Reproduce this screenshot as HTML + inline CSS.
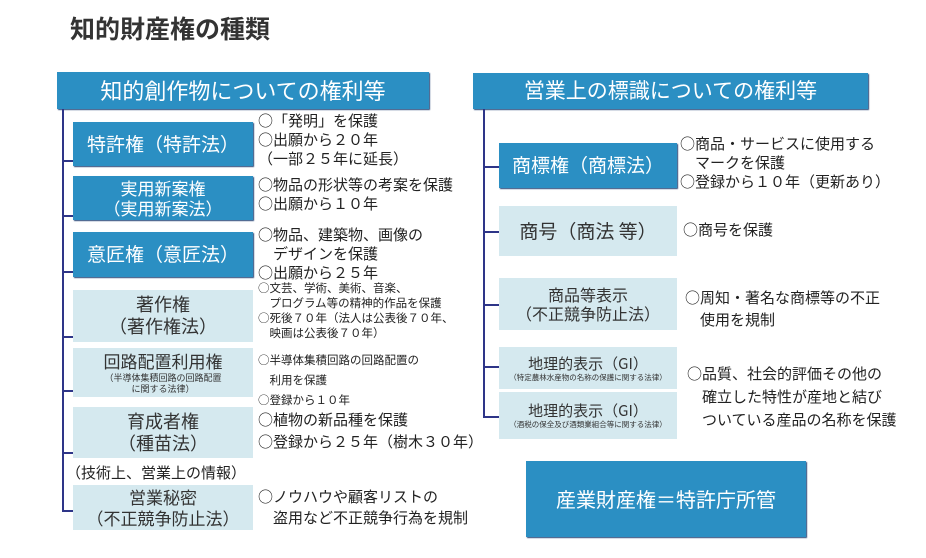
<!DOCTYPE html>
<html><head><meta charset="utf-8"><style>
body{margin:0;width:926px;height:558px;background:#fff;position:relative;overflow:hidden;font-family:"Noto Sans CJK JP","Liberation Sans",sans-serif;color:#222}
.a{position:absolute}
.d{position:absolute;background:#2b8fc3;color:#fff;display:flex;flex-direction:column;align-items:center;justify-content:center;text-align:center;box-shadow:1px 1px 1px #2a4a7a;line-height:1.2}
.l{position:absolute;background:#d5e9ef;color:#333;display:flex;flex-direction:column;align-items:center;justify-content:center;text-align:center;line-height:1.2}
.v{position:absolute;background:#2e3588;width:2px}
.h{position:absolute;background:#2e3588;height:2px}
.t{position:absolute;font-size:15px;line-height:19px;color:#222;white-space:nowrap}
.s{font-size:9px;line-height:11px}
</style></head><body>
<div class="a" style="left:70px;top:12px;font-size:25px;line-height:32px;font-weight:bold;color:#333">知的財産権の種類</div>

<div class="d" style="left:57px;top:72px;width:372px;height:37px;font-size:22px">知的創作物についての権利等</div>
<div class="v" style="left:62px;top:109px;height:403px"></div>
<div class="h" style="left:62px;top:160px;width:11px"></div>
<div class="h" style="left:62px;top:215px;width:11px"></div>
<div class="h" style="left:62px;top:271px;width:11px"></div>
<div class="h" style="left:62px;top:336px;width:11px"></div>
<div class="h" style="left:62px;top:390px;width:11px"></div>
<div class="h" style="left:62px;top:452px;width:11px"></div>
<div class="h" style="left:62px;top:510px;width:11px"></div>

<div class="d" style="left:73px;top:122px;width:180px;height:44px;font-size:19px">特許権（特許法）</div>
<div class="d" style="left:73px;top:176px;width:180px;height:44px;font-size:17px"><div>実用新案権</div><div>（実用新案法）</div></div>
<div class="d" style="left:73px;top:232px;width:180px;height:45px;font-size:19px">意匠権（意匠法）</div>
<div class="l" style="left:73px;top:290px;width:180px;height:52px;font-size:18px"><div>著作権</div><div>（著作権法）</div></div>
<div class="l" style="left:73px;top:348px;width:180px;height:49px;font-size:17px"><div>回路配置利用権</div><div class="s">（半導体集積回路の回路配置<br>に関する法律）</div></div>
<div class="l" style="left:73px;top:407px;width:180px;height:51px;font-size:18px"><div>育成者権</div><div>（種苗法）</div></div>
<div class="t" style="left:66px;top:463px;font-size:15px">（技術上、営業上の情報）</div>
<div class="l" style="left:73px;top:485px;width:180px;height:45px;font-size:17px"><div>営業秘密</div><div>（不正競争防止法）</div></div>

<div class="t" style="left:258px;top:111px">○「発明」を保護<br>○出願から２０年<br>（一部２５年に延長）</div>
<div class="t" style="left:258px;top:175px">○物品の形状等の考案を保護<br>○出願から１０年</div>
<div class="t" style="left:258px;top:225px">○物品、建築物、画像の<br>　デザインを保護<br>○出願から２５年</div>
<div class="t" style="left:258px;top:281px;font-size:11.5px;line-height:15px">○文芸、学術、美術、音楽、<br>　プログラム等の精神的作品を保護<br>○死後７０年（法人は公表後７０年、<br>　映画は公表後７０年）</div>
<div class="t" style="left:258px;top:350px;font-size:11.5px;line-height:20px">○半導体集積回路の回路配置の<br>　利用を保護<br>○登録から１０年</div>
<div class="t" style="left:258px;top:409px;line-height:22px">○植物の新品種を保護<br>○登録から２５年（樹木３０年）</div>
<div class="t" style="left:258px;top:486px;line-height:21px">○ノウハウや顧客リストの<br>　盗用など不正競争行為を規制</div>

<div class="d" style="left:473px;top:73px;width:395px;height:36px;font-size:21px">営業上の標識についての権利等</div>
<div class="v" style="left:483px;top:109px;height:308px"></div>
<div class="h" style="left:483px;top:166px;width:16px"></div>
<div class="h" style="left:483px;top:231px;width:16px"></div>
<div class="h" style="left:483px;top:304px;width:16px"></div>
<div class="h" style="left:483px;top:366px;width:16px"></div>
<div class="h" style="left:483px;top:416px;width:16px"></div>

<div class="d" style="left:499px;top:143px;width:178px;height:45px;font-size:19px">商標権（商標法）</div>
<div class="l" style="left:499px;top:206px;width:178px;height:50px;font-size:19px">商号（商法 等）</div>
<div class="l" style="left:499px;top:278px;width:178px;height:52px;font-size:16px"><div>商品等表示</div><div>（不正競争防止法）</div></div>
<div class="l" style="left:499px;top:347px;width:178px;height:42px;font-size:15px"><div>地理的表示（GI）</div><div style="font-size:7.5px;line-height:9px">（特定農林水産物の名称の保護に関する法律）</div></div>
<div class="l" style="left:499px;top:391px;width:178px;height:47px;font-size:15px;border-top:1px solid #fff"><div>地理的表示（GI）</div><div style="font-size:7.5px;line-height:9px">（酒税の保全及び酒類業組合等に関する法律）</div></div>

<div class="t" style="left:680px;top:134px">○商品・サービスに使用する<br>　マークを保護<br>○登録から１０年（更新あり）</div>
<div class="t" style="left:683px;top:220px">○商号を保護</div>
<div class="t" style="left:685px;top:287px;line-height:22px">○周知・著名な商標等の不正<br>　使用を規制</div>
<div class="t" style="left:687px;top:362px;line-height:23px">○品質、社会的評価その他の<br>　確立した特性が産地と結び<br>　ついている産品の名称を保護</div>

<div class="d" style="left:526px;top:461px;width:280px;height:76px;font-size:20px">産業財産権＝特許庁所管</div>
</body></html>
